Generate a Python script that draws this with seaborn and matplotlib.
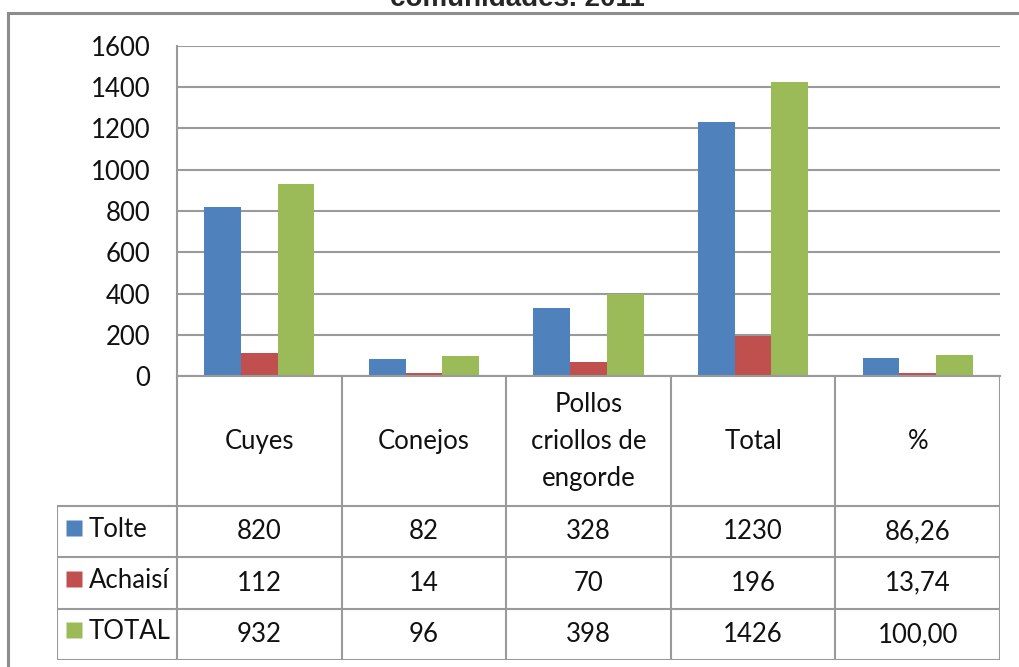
import numpy as np
import pandas as pd
import seaborn as sns
import matplotlib.pyplot as plt
from matplotlib.patches import Rectangle

# data
categories = ['Cuyes', 'Conejos', 'Pollos\ncriollos de\nengorde', 'Total', '%']
series = ['Tolte', 'Achaisí', 'TOTAL']
tolte = [820, 82, 328, 1230, 86.26]
achaisi = [112, 14, 70, 196, 13.74]
total = [932, 96, 398, 1426, 100.00]
table_labels = [['820', '82', '328', '1230', '86,26'],
                ['112', '14', '70', '196', '13,74'],
                ['932', '96', '398', '1426', '100,00']]
colors = ['#4F81BD', '#C0504D', '#9BBB59']
title = 'comunidades. 2011'

df = pd.DataFrame({
    'cat': categories * 3,
    'serie': [s for s in series for _ in categories],
    'valor': tolte + achaisi + total,
})

sns.set_style('white')
plt.rcParams['font.family'] = ['Lato', 'DejaVu Sans']
fs = 18.5
grid_c = '#9a9a9a'

fig = plt.figure(figsize=(10.2, 6.67), dpi=100)

# outer frame (cut off at right and bottom)
fig.patches.append(Rectangle((8 / 1020, -0.1), 1.2, 1 - 13 / 667 + 0.1,
                             transform=fig.transFigure, fill=False,
                             edgecolor='#8c8c8c', lw=2.2, zorder=0))
fig.text(517 / 1020, 1 - 6 / 667, title, ha='center', va='baseline',
         fontsize=20, fontweight='bold', family='Liberation Sans')

# bar chart
ax = fig.add_axes([177 / 1020, 1 - 376 / 667, (1000 - 177) / 1020, (376 - 46) / 667])
sns.barplot(data=df, x='cat', y='valor', hue='serie', palette=colors,
            width=0.67, gap=0, ax=ax, legend=False, linewidth=0, saturation=1)
ax.set_xlim(-0.5, 4.5)
ax.set_ylim(0, 1600)
ax.set_yticks(np.arange(0, 1601, 200))
ax.yaxis.grid(True, color=grid_c, lw=1.5)
ax.set_axisbelow(True)
ax.set_xlabel('')
ax.set_ylabel('')
ax.set_xticks([])
ax.tick_params(axis='y', length=0, pad=19, labelsize=fs, colors='#111111')
for s in ['top', 'right']:
    ax.spines[s].set_visible(False)
for s in ['left', 'bottom']:
    ax.spines[s].set_color(grid_c)
    ax.spines[s].set_linewidth(1.5)

# data table below
legw = 120 / 164.6
hdr = 130 / 51.3
tab = fig.add_axes([57 / 1020, 1 - 660 / 667, (1000 - 57) / 1020, (660 - 376) / 667])
tab.set_xlim(-0.5 - legw, 4.5)
tab.set_ylim(hdr + 3, 0)
tab.axis('off')
lk = dict(color=grid_c, lw=1.5)
# vertical lines
for i in range(6):
    tab.plot([i - 0.5, i - 0.5], [0, hdr + 3], **lk)
tab.plot([-0.5 - legw] * 2, [hdr, hdr + 3], **lk)
# horizontal lines
for r in range(4):
    tab.plot([-0.5 - legw, 4.5], [hdr + r, hdr + r], **lk)

for i, c in enumerate(categories):
    tab.text(i, hdr / 2, c, ha='center', va='center', fontsize=fs,
             linespacing=1.6, color='#111111')
for r, (name, col) in enumerate(zip(series, colors)):
    y = hdr + r + 0.5
    tab.plot([-0.5 - legw + 17 / 164.6], [y - 0.08], marker='s', ms=11.5,
             color=col, mec='none')
    tab.text(-0.5 - legw + 32 / 164.6, y - 0.05, name, ha='left', va='center',
             fontsize=fs, color='#111111')
    for i in range(len(categories)):
        tab.text(i, y, table_labels[r][i], ha='center', va='center',
                 fontsize=fs, color='#111111')

fig.savefig('out.png', dpi=100)
